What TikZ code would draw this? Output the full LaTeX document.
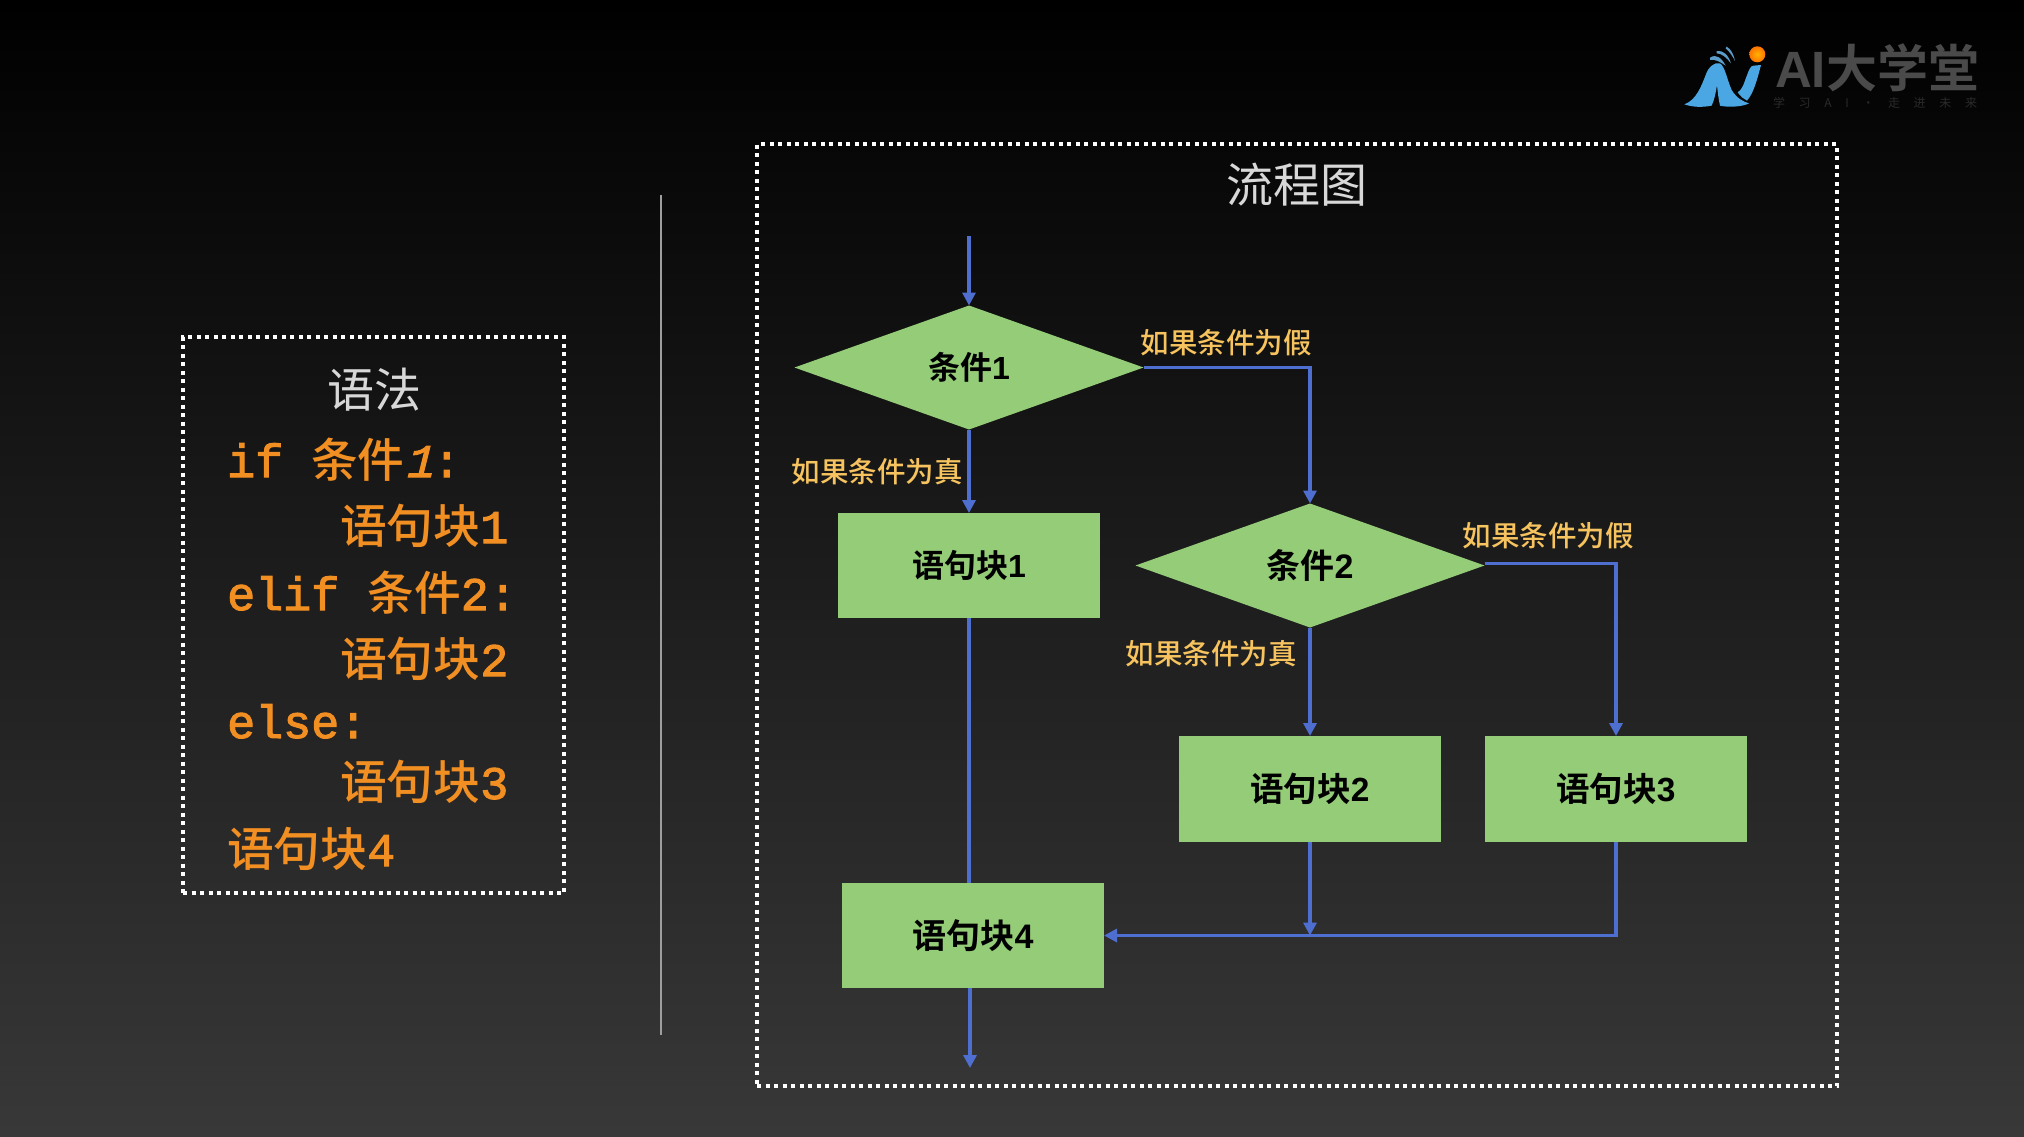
\documentclass[tikz,border=0pt]{standalone}
\usepackage{fontspec}
\usetikzlibrary{arrows.meta,shapes.geometric}
\setmainfont{Liberation Sans}
\setmonofont[FakeBold=2.2]{Liberation Mono}
\newfontfamily\codeit[FakeSlant=0.25,FakeBold=2.2]{Liberation Mono}
\newfontfamily\cjk[BoldFont={Noto Sans CJK SC Bold}]{Noto Sans CJK SC}
\newfontfamily\cjkm[BoldFont={Noto Sans CJK SC Medium}]{Noto Sans CJK SC Medium}
\definecolor{bgbottom}{HTML}{383838}
\definecolor{flowblue}{HTML}{4E6FCF}
\definecolor{leaf}{HTML}{95CC78}
\definecolor{amber}{HTML}{F6C35E}
\definecolor{codeor}{HTML}{F28F22}
\definecolor{titlegr}{HTML}{D8D8D8}
\definecolor{logogr}{HTML}{4A4A4A}
\definecolor{logosub}{HTML}{2A2A2A}
\definecolor{logobl}{HTML}{4BA6E4}
\definecolor{logowing}{HTML}{5C9CC8}
\newcommand{\zh}[1]{{\cjkm\mdseries #1}}
\tikzset{
  dotbox/.style={draw=white,line width=4pt,dash pattern=on 4pt off 4.5pt,inner sep=0,outer sep=0,anchor=north west},
  flow/.style={draw=flowblue,line width=3.2pt,-{Triangle[length=13pt,width=13pt]}},
  flowplain/.style={draw=flowblue,line width=3.2pt},
  stmt/.style={fill=leaf,inner sep=0,outer sep=0,minimum width=262pt,minimum height=105pt,text=black,font=\bfseries\fontsize{33.5}{33.5}\selectfont},
  cond/.style={diamond,fill=leaf,inner sep=0,outer sep=0,minimum width=349pt,minimum height=124pt,aspect=2.8,text=black,font=\bfseries\fontsize{33}{33}\selectfont},
  edgelabel/.style={text=amber,inner sep=0,font=\cjkm\fontsize{28.5}{28.5}\selectfont},
  codeline/.style={anchor=base west,inner sep=0,text=codeor,font=\ttfamily\fontsize{46.7}{46.7}\selectfont},
  boxtitle/.style={text=titlegr,inner sep=0,font=\cjk\fontsize{47}{47}\selectfont},
}
\begin{document}
\begin{tikzpicture}[x=1pt,y=-1pt]
\useasboundingbox (0,0) rectangle (2024,1136);
\shade[top color=black,bottom color=bgbottom] (0,0) rectangle (2024,1136);

% divider
\coordinate (divtop) at (661,195);
\coordinate (divbot) at (661,1035);
\draw[draw=white!62!black,line width=1.3pt] (divtop) -- (divbot);

% containers
\node[dotbox,minimum width=381pt,minimum height=556pt] (syntaxbox) at (183,337) {};
\node[dotbox,minimum width=1080pt,minimum height=942pt] (flowbox) at (757,144) {};

% syntax panel
\node[boxtitle] (syntaxtitle) at (374,390) {语法};
\node[codeline] (c1) at (227,477) {if \zh{条件}{\codeit 1}:};
\node[codeline] (c2) at (340,543) {\zh{语句块}1};
\node[codeline] (c3) at (227,610) {elif \zh{条件}2:};
\node[codeline] (c4) at (340,676) {\zh{语句块}2};
\node[codeline] (c5) at (227,738) {else:};
\node[codeline] (c6) at (340,799) {\zh{语句块}3};
\node[codeline] (c7) at (227,866) {\zh{语句块}4};

% flowchart
\node[boxtitle] (flowtitle) at (1297,185) {流程图};
\node[cond,font=\bfseries\fontsize{32}{32}\selectfont] (d1) at (969,367.5) {{\cjk 条件}1};
\node[cond,font=\bfseries\fontsize{34}{34}\selectfont] (d2) at (1310,565.5) {{\cjk 条件}2};
\node[stmt,font=\bfseries\fontsize{32}{32}\selectfont] (r1) at (969,565.5) {{\cjk 语句块}1};
\node[stmt,minimum height=106pt] (r2) at (1310,789) {{\cjk 语句块}2};
\node[stmt,minimum height=106pt] (r3) at (1616,789) {{\cjk 语句块}3};
\node[stmt,font=\bfseries\fontsize{34}{34}\selectfont] (r4) at (973,935.5) {{\cjk 语句块}4};
\coordinate (start) at (969,236);
\coordinate (finish) at (970,1068);

\draw[flow] (start) -- (d1.north);
\draw[flow] (d1.south) -- (r1.north);
\draw[flow] (d1.east) -| (d2.north);
\draw[flow] (d2.south) -- (r2.north);
\draw[flow] ([yshift=2pt]d2.east) -| (r3.north);
\draw[flowplain] (r1.south) -- (r1.south |- r4.north);
\draw[flow] (r2.south) -- (r2.south |- r4.east);
\draw[flow] (r3.south) |- (r4.east);
\draw[flow] (finish |- r4.south) -- (finish);

\node[edgelabel] (l1) at (1226,343) {如果条件为假};
\node[edgelabel] (l2) at (877,472) {如果条件为真};
\node[edgelabel] (l3) at (1548,536) {如果条件为假};
\node[edgelabel] (l4) at (1211,654) {如果条件为真};

% logo
\begin{scope}[shift={(1675,35)},x=0.3333pt,y=-0.3333pt]
  \fill[logobl] (28,208) .. controls (65,195) and (80,150) .. (92,120)
     .. controls (100,95) and (120,80) .. (135,85)
     .. controls (150,95) and (155,130) .. (170,165)
     .. controls (185,190) and (205,200) .. (222,205)
     .. controls (205,215) and (160,218) .. (135,212)
     .. controls (130,190) and (128,170) .. (126,150)
     .. controls (122,175) and (118,195) .. (110,212)
     .. controls (80,218) and (50,216) .. (28,208) -- cycle;
  \fill[logobl] (258,90) -- (235,92) .. controls (225,92) and (222,105) .. (205,150)
     .. controls (198,165) and (192,170) .. (188,172)
     .. controls (198,185) and (205,192) .. (216,197)
     .. controls (235,175) and (245,140) .. (258,90) -- cycle;
  \fill[logowing] (105,68) .. controls (125,55) and (140,70) .. (152,92)
     .. controls (135,80) and (120,72) .. (105,75) -- cycle;
  \fill[logowing] (125,48) .. controls (145,45) and (160,60) .. (168,85)
     .. controls (155,68) and (140,55) .. (125,55) -- cycle;
  \fill[logowing] (155,35) .. controls (168,42) and (176,58) .. (180,78)
     .. controls (172,62) and (162,48) .. (152,40) -- cycle;
\end{scope}
\shade[inner color=orange!60!yellow,outer color=orange!90!red] (1757.3,54.3) circle (8);
\node[inner sep=0,text=logogr,font=\bfseries\fontsize{51}{51}\selectfont] (logotext) at (1877,68) {AI{\cjk\bfseries 大学堂}};
\node[inner sep=0,text=logosub,font=\cjk\fontsize{12}{12}\selectfont] (logosubt) at (1875,103)
  {\makebox[204pt][s]{学\hfill 习\hfill A\hfill I\hfill ·\hfill 走\hfill 进\hfill 未\hfill 来}};
\end{tikzpicture}
\end{document}
